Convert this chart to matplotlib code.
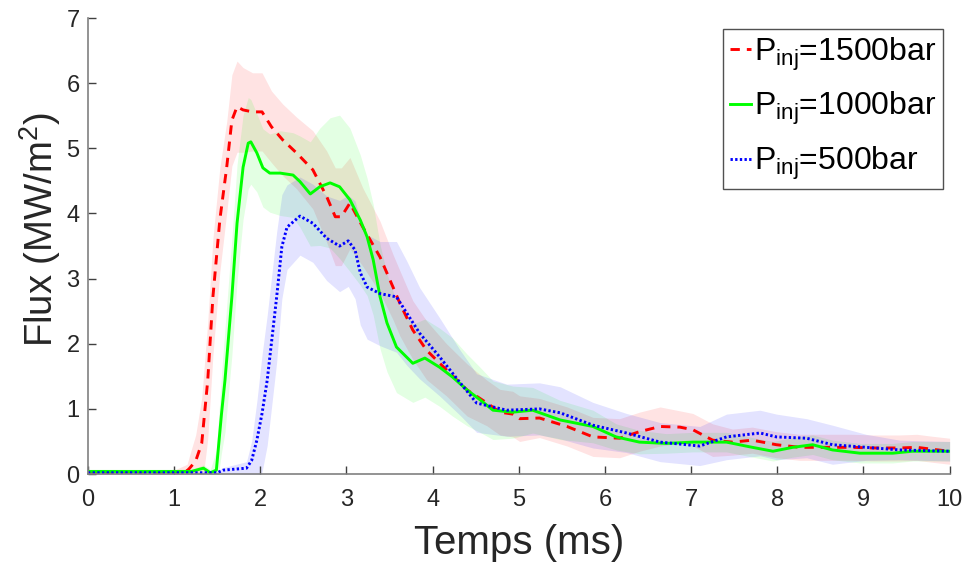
import numpy as np
import matplotlib
matplotlib.use("Agg")
import matplotlib.pyplot as plt

plt.rcParams['font.family'] = ['Liberation Sans', 'DejaVu Sans']
plt.rcParams['mathtext.fontset'] = 'custom'
plt.rcParams['mathtext.rm'] = 'Liberation Sans'

# ---- data ----
x_1500 = [0, 1.0, 1.15, 1.18, 1.25, 1.32, 1.39, 1.45, 1.53, 1.61, 1.67, 1.73, 1.80, 1.91, 2.02,
          2.13, 2.26, 2.42, 2.61, 2.77, 2.87, 2.94, 3.04, 3.19, 3.39, 3.54, 3.62, 3.77, 3.93,
          4.16, 4.40, 4.63, 4.78, 4.93, 5.01, 5.24, 5.56, 5.86, 6.17, 6.40, 6.64, 6.87, 7.02,
          7.25, 7.48, 7.71, 7.99, 8.26, 8.57, 8.87, 9.11, 9.42, 9.62, 9.80, 10]
y_1500 = [0.03, 0.03, 0.05, 0.09, 0.2, 0.47, 1.44, 2.72, 3.9, 4.71, 5.43, 5.64, 5.59, 5.56, 5.56,
          5.33, 5.13, 4.93, 4.67, 4.26, 3.95, 3.95, 4.16, 3.79, 3.33, 2.87, 2.62, 2.21, 1.90,
          1.60, 1.29, 1.09, 0.95, 0.92, 0.85, 0.86, 0.73, 0.57, 0.55, 0.65, 0.73, 0.72, 0.68,
          0.52, 0.49, 0.52, 0.45, 0.41, 0.41, 0.41, 0.40, 0.40, 0.41, 0.38, 0.35]
s_1500 = [0.03, 0.03, 0.1, 0.2, 0.4, 0.7, 0.9, 0.9, 0.8, 0.7, 0.7, 0.7, 0.65, 0.6, 0.6,
          0.55, 0.55, 0.55, 0.6, 0.7, 0.75, 0.75, 0.7, 0.6, 0.55, 0.5, 0.5, 0.45, 0.45,
          0.4, 0.4, 0.35, 0.35, 0.35, 0.35, 0.3, 0.3, 0.3, 0.3, 0.3, 0.3, 0.25, 0.25,
          0.25, 0.2, 0.2, 0.2, 0.2, 0.2, 0.2, 0.2, 0.2, 0.2, 0.2, 0.2]

x_1000 = [0, 1.2, 1.34, 1.42, 1.49, 1.55, 1.59, 1.67, 1.73, 1.80, 1.86, 1.89, 1.96, 2.03, 2.11,
          2.23, 2.38, 2.46, 2.58, 2.69, 2.81, 2.92, 3.04, 3.16, 3.24, 3.31, 3.39, 3.47, 3.58,
          3.77, 3.91, 4.08, 4.23, 4.40, 4.55, 4.70, 4.93, 5.16, 5.48, 5.86, 6.13, 6.40, 6.71,
          7.02, 7.41, 7.71, 7.95, 8.18, 8.41, 8.64, 8.96, 9.34, 9.57, 10]
y_1000 = [0.04, 0.04, 0.09, 0.02, 0.06, 0.93, 1.44, 2.72, 3.85, 4.71, 5.08, 5.10, 4.93, 4.70, 4.62,
          4.62, 4.59, 4.49, 4.30, 4.41, 4.47, 4.41, 4.21, 3.90, 3.64, 3.29, 2.72, 2.32, 1.95,
          1.70, 1.78, 1.64, 1.49, 1.29, 1.14, 0.98, 0.95, 0.98, 0.83, 0.73, 0.57, 0.49, 0.47,
          0.49, 0.49, 0.41, 0.35, 0.41, 0.45, 0.37, 0.32, 0.32, 0.35, 0.35]
s_1000 = [0.03, 0.03, 0.05, 0.05, 0.3, 0.6, 0.8, 0.9, 0.9, 0.8, 0.7, 0.65, 0.6, 0.6, 0.6,
          0.65, 0.65, 0.7, 0.8, 0.9, 1.0, 1.1, 1.1, 1.0, 0.9, 0.85, 0.8, 0.75, 0.7,
          0.6, 0.6, 0.6, 0.6, 0.55, 0.5, 0.45, 0.4, 0.35, 0.3, 0.25, 0.2, 0.18, 0.15,
          0.15, 0.15, 0.15, 0.15, 0.15, 0.15, 0.15, 0.15, 0.15, 0.15, 0.15]

x_500 = [0, 1.5, 1.57, 1.84, 1.90, 1.96, 2.02, 2.08, 2.19, 2.25, 2.31, 2.46, 2.61, 2.77, 2.92,
         3.02, 3.10, 3.16, 3.24, 3.39, 3.58, 3.70, 3.85, 4.08, 4.32, 4.51, 4.86, 5.24, 5.48,
         5.86, 6.25, 6.64, 7.10, 7.41, 7.80, 7.99, 8.34, 8.64, 9.03, 9.42, 10]
y_500 = [0.02, 0.02, 0.06, 0.09, 0.21, 0.52, 0.93, 1.44, 2.72, 3.49, 3.79, 3.96, 3.85, 3.62, 3.50,
         3.58, 3.44, 3.09, 2.87, 2.77, 2.72, 2.47, 2.16, 1.80, 1.40, 1.09, 0.98, 1.00, 0.94,
         0.75, 0.63, 0.49, 0.43, 0.57, 0.63, 0.57, 0.55, 0.45, 0.41, 0.37, 0.35]
s_500 = [0.02, 0.02, 0.04, 0.1, 0.3, 0.6, 0.9, 1.0, 1.0, 0.8, 0.65, 0.6, 0.6, 0.65, 0.7,
         0.7, 0.75, 0.8, 0.8, 0.8, 0.85, 0.8, 0.7, 0.6, 0.5, 0.45, 0.4, 0.4, 0.4,
         0.35, 0.3, 0.3, 0.3, 0.35, 0.35, 0.35, 0.3, 0.3, 0.2, 0.15, 0.15]

labels = [r'$\mathregular{P_{inj}}$=1500bar', r'$\mathregular{P_{inj}}$=1000bar',
          r'$\mathregular{P_{inj}}$=500bar']
x_ticks = [0, 1, 2, 3, 4, 5, 6, 7, 8, 9, 10]
y_ticks = [0, 1, 2, 3, 4, 5, 6, 7]

# ---- figure ----
fig = plt.figure(figsize=(9.7, 5.65), dpi=100)
ax = fig.add_axes([0.0907, 0.161, 0.979 - 0.0907, 0.968 - 0.161])

series = [
    (x_1500, y_1500, s_1500, '#ff0000', (0, (3.2, 2.4))),
    (x_1000, y_1000, s_1000, '#00ff00', '-'),
    (x_500, y_500, s_500, '#0000ff', (0, (0.8, 0.8))),
]
for (x, y, s, c, ls) in series:
    x = np.asarray(x); y = np.asarray(y); s = np.asarray(s)
    ax.fill_between(x, y - s, y + s, color=c, alpha=0.11, linewidth=0)
handles = []
for (x, y, s, c, ls), lab in zip(series, labels):
    h, = ax.plot(x, y, color=c, linestyle=ls, linewidth=2.1, label=lab)
    handles.append(h)

ax.set_xlim(0, 10)
ax.set_ylim(0, 7)
ax.set_xticks(x_ticks)
ax.set_yticks(y_ticks)
for sp in ['top', 'right']:
    ax.spines[sp].set_visible(False)
for sp in ['left', 'bottom']:
    ax.spines[sp].set_color('#808080')
    ax.spines[sp].set_linewidth(1.2)
ax.tick_params(direction='in', length=6, width=1, color='#404040',
               labelsize=17, labelcolor='#262626')
ax.tick_params(axis='x', pad=11)
ax.tick_params(axis='y', pad=6)
ax.set_xlabel('Temps (ms)', fontsize=29, color='#262626', labelpad=0)
ax.set_ylabel(r'Flux (MW/m$^\mathregular{2}$)', fontsize=27.5, color='#262626')
ax.yaxis.set_label_coords(-0.029, 0.535)
ax.xaxis.set_label_coords(0.5, -0.109)

leg = ax.legend(handles=handles, loc='upper right', bbox_to_anchor=(1.0, 0.99),
                fontsize=23, handlelength=0.65, handletextpad=0.12, borderpad=0.2,
                labelspacing=0.55, borderaxespad=0.2, fancybox=False, frameon=True)
leg.get_frame().set_edgecolor('#262626')
leg.get_frame().set_linewidth(1.0)

fig.savefig('out.png', dpi=100, facecolor='white')
